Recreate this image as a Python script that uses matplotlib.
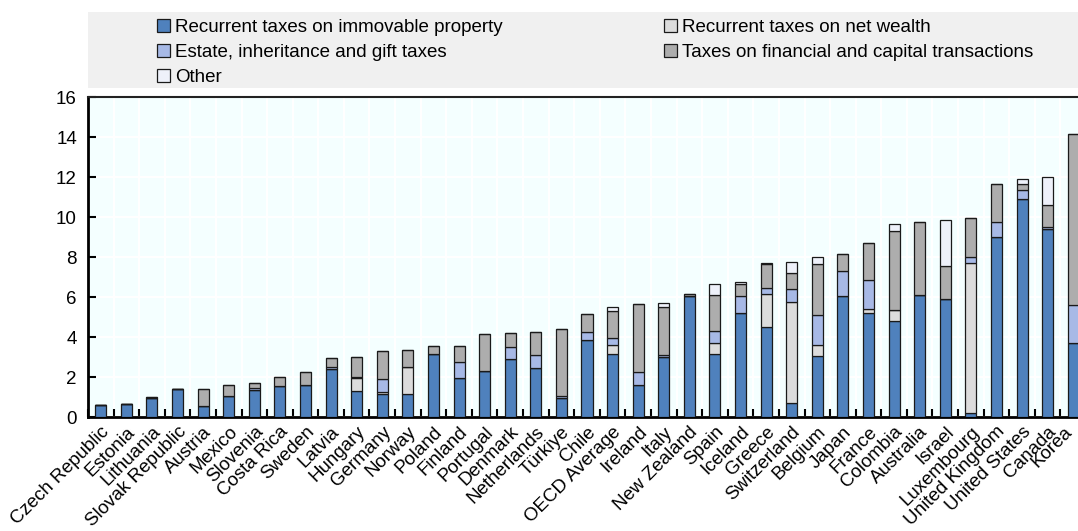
import numpy as np
import matplotlib
matplotlib.use("Agg")
import matplotlib.pyplot as plt
from matplotlib.patches import Rectangle, Patch

plt.rcParams['font.family'] = ['Liberation Sans', 'DejaVu Sans']

countries = ["Czech Republic", "Estonia", "Lithuania", "Slovak Republic", "Austria",
             "Mexico", "Slovenia", "Costa Rica", "Sweden", "Latvia", "Hungary",
             "Germany", "Norway", "Poland", "Finland", "Portugal", "Denmark",
             "Netherlands", "Türkiye", "Chile", "OECD Average", "Ireland", "Italy",
             "New Zealand", "Spain", "Iceland", "Greece", "Switzerland", "Belgium",
             "Japan", "France", "Colombia", "Australia", "Israel", "Luxembourg",
             "United Kingdom", "United States", "Canada", "Korea"]

immovable = [0.62, 0.65, 0.93, 1.38, 0.53, 1.05, 1.35, 1.55, 1.60, 2.38,
             1.32, 1.13, 1.13, 3.13, 1.95, 2.30, 2.90, 2.47, 0.93, 3.87,
             3.17, 1.60, 2.98, 6.05, 3.15, 5.22, 4.48, 0.68, 3.07, 6.03,
             5.22, 4.82, 6.12, 5.92, 0.22, 9.02, 10.92, 9.42, 3.68]
net_wealth = [0, 0, 0, 0, 0, 0, 0, 0, 0, 0,
              0.63, 0.10, 1.35, 0, 0, 0, 0, 0, 0, 0,
              0.45, 0, 0, 0, 0.53, 0, 1.65, 5.09, 0.53, 0,
              0.20, 0.51, 0, 0, 7.47, 0, 0, 0, 0]
estate = [0, 0, 0, 0, 0, 0, 0.08, 0, 0, 0.10,
          0.05, 0.65, 0, 0, 0.80, 0, 0.60, 0.65, 0.10, 0.40,
          0.35, 0.67, 0.12, 0, 0.60, 0.83, 0.33, 0.63, 1.50, 1.29,
          1.41, 0, 0, 0, 0.33, 0.73, 0.43, 0.10, 1.92]
financial = [0, 0, 0.05, 0, 0.85, 0.57, 0.27, 0.43, 0.65, 0.49,
             0.98, 1.40, 0.87, 0.44, 0.82, 1.85, 0.70, 1.11, 3.39, 0.90,
             1.35, 3.38, 2.42, 0.10, 1.82, 0.58, 1.17, 0.82, 2.55, 0.83,
             1.87, 3.97, 3.65, 1.65, 1.95, 1.92, 0.32, 1.08, 8.53]
other = [0, 0, 0, 0, 0, 0, 0, 0, 0, 0,
         0, 0, 0, 0, 0, 0, 0, 0, 0, 0,
         0.18, 0, 0.20, 0, 0.53, 0.10, 0.05, 0.55, 0.33, 0,
         0, 0.33, 0, 2.28, 0, 0, 0.22, 1.42, 0]

series = [
    ("Recurrent taxes on immovable property", immovable, "#4F81BD"),
    ("Recurrent taxes on net wealth", net_wealth, "#DCDCDC"),
    ("Estate, inheritance and gift taxes", estate, "#A7B9E6"),
    ("Taxes on financial and capital transactions", financial, "#ADADAD"),
    ("Other", other, "#EEF1FA"),
]

FS = 13.5
W, H = 1078, 531
fig = plt.figure(figsize=(W / 100, H / 100), dpi=100)

# axes spans past the right edge, like the original crop
x0, x1 = 88, 1086
y0, y1 = 417, 97
ax = fig.add_axes([x0 / W, 1 - y0 / H, (x1 - x0) / W, (y0 - y1) / H])
ax.set_facecolor("#F4FFFF")

x = np.arange(len(countries))
bottom = np.zeros(len(countries))
for name, vals, col in series:
    vals = np.array(vals)
    ax.bar(x, vals, width=0.43, bottom=bottom, color=col, edgecolor="#1a1a1a",
           linewidth=0.9, zorder=3)
    bottom += vals

ax.set_xlim(-0.5, len(countries) - 0.5)
ax.set_ylim(0, 16)
ax.set_yticks(np.arange(0, 17, 2))
ax.set_xticks(x)
ax.set_xticklabels([])
ax.set_xticks(np.arange(-0.5, len(countries), 1), minor=True)

# category labels as annotations so the last one can be nudged off the edge
for i, name in enumerate(countries):
    dx = -7 if i == len(countries) - 1 else 0
    ax.annotate(name, xy=(i, 0), xycoords=("data", "axes fraction"),
                xytext=(dx, -4.5), textcoords="offset points",
                rotation=45, ha="right", va="top", rotation_mode="anchor",
                fontsize=FS, annotation_clip=False)

ax.tick_params(axis="x", which="major", length=0)
ax.tick_params(axis="x", which="minor", direction="in", length=6, width=1.5,
               color="black")
ax.tick_params(axis="y", direction="in", length=6, width=1.5, labelsize=FS, pad=8)

ax.grid(axis="y", which="major", color="white", linewidth=1.5, zorder=0)
ax.grid(axis="x", which="minor", color="white", linewidth=1.5, zorder=0)
ax.set_axisbelow(True)

for s in ["left", "bottom"]:
    ax.spines[s].set_linewidth(2)
    ax.spines[s].set_color("black")
ax.spines["top"].set_linewidth(1.5)
ax.spines["top"].set_color("#222222")
ax.spines["right"].set_visible(False)

# legend band
fig.patches.append(Rectangle((88 / W, 1 - 88 / H), (W - 88) / W, 76 / H,
                             transform=fig.transFigure, facecolor="#F0F0F0",
                             edgecolor="none", zorder=0))
order = [0, 2, 4, 1, 3]
handles = [Patch(facecolor=series[i][2], edgecolor="#1a1a1a", linewidth=0.9,
                 label=series[i][0]) for i in order]
fig.legend(handles=handles, loc="upper left", ncol=2, frameon=False,
           bbox_to_anchor=(157 / W, 1 - 19 / H), fontsize=FS,
           handlelength=0.7, handleheight=0.7, handletextpad=0.25,
           labelspacing=0.42, columnspacing=8.6, borderpad=0, borderaxespad=0)

fig.savefig("out.png", dpi=100)
